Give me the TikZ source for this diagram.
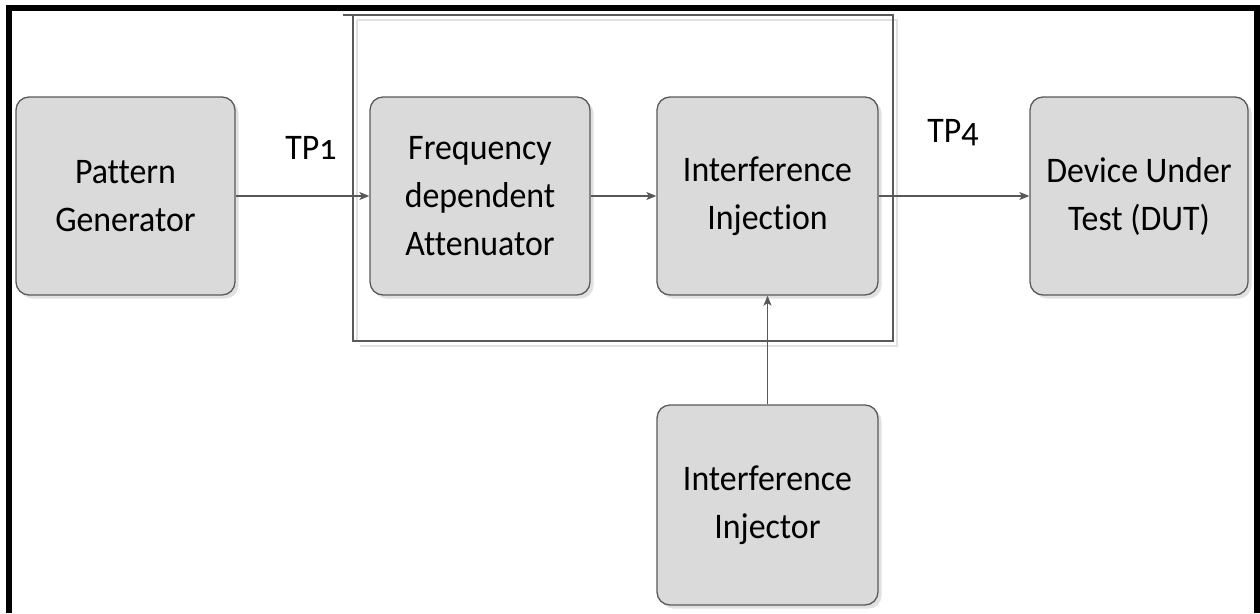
\documentclass[tikz,border=0pt]{standalone}
\usepackage{fontspec}
\setmainfont{Carlito}[Ligatures={NoCommon}, FakeStretch=0.94]
\usetikzlibrary{arrows.meta,shadows}
\definecolor{boxfill}{RGB}{218,218,218}
\definecolor{boxline}{RGB}{90,90,90}
\definecolor{conn}{RGB}{88,88,88}
\definecolor{shade}{RGB}{225,225,225}
\tikzset{
  blockbox/.style={draw=boxline, line width=1.3pt, fill=boxfill, rounded corners=13pt,
    minimum width=220pt, minimum height=198pt, align=center, inner sep=0pt,
    font=\fontsize{36}{48}\selectfont,
    drop shadow={shadow xshift=3.5pt, shadow yshift=-3.5pt, fill=shade, opacity=1}},
  conline/.style={draw=conn, line width=1.2pt, -{Stealth[length=10pt,width=8pt,inset=2.5pt]}},
  tplabel/.style={font=\fontsize{36}{40}\selectfont\addfontfeatures{Numbers=OldStyle}, inner sep=0pt},
  frameline/.style={draw=boxline, line width=1.3pt},
  frameshade/.style={draw=shade, line width=1.5pt},
}
\begin{document}
\begin{tikzpicture}[x=1pt,y=-1pt]
\useasboundingbox (0,0) rectangle (1260,613);
\fill[white] (0,0) rectangle (1260,613);
% outer black border (no bottom)
\draw[line width=6pt, black] (9,613) -- (9,8) -- (1257,8) -- (1257,613);
% container
\draw[frameshade] (357,20) -- (897,20) -- (897,346) -- (360,346);
\draw[frameshade] (357,20) -- (357,341);
\draw[frameline] (353,15) rectangle (893,341);
\draw[frameline] (343,15) -- (353,15);
% blocks
\node[blockbox, minimum width=219pt] (pg) at (125.5,196) {Pattern\\Generator};
\node[blockbox, minimum width=220pt] (fa) at (480,196) {Frequency\\dependent\\Attenuator};
\node[blockbox, minimum width=221pt] (ii) at (767.5,196) {Interference\\Injection};
\node[blockbox, minimum width=218pt] (dut) at (1139,196) {Device Under\\Test (DUT)};
\node[blockbox, minimum width=221pt, minimum height=200pt] (inj) at (767.5,505) {Interference\\Injector};
% labels
\node[tplabel] (tp1) at (311,148) {TP1};
\node[tplabel] (tp4) at (953,133) {TP4};
% connectors
\draw[conline] (pg.east) -- (fa.west);
\draw[conline] (fa.east) -- (ii.west);
\draw[conline] (ii.east) -- (dut.west);
\draw[conline] (inj.north) -- (ii.south);
\end{tikzpicture}
\end{document}
